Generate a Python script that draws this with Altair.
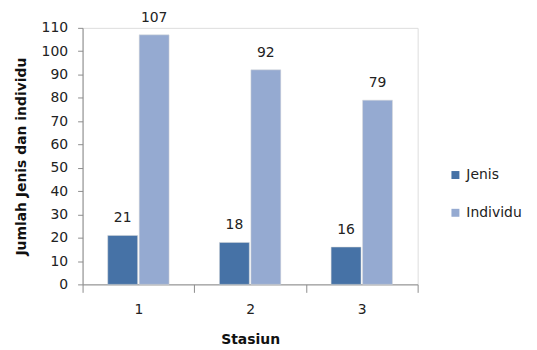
import altair as alt
import pandas as pd

stasiun = ["1", "2", "3"]
jenis = [21, 18, 16]
individu = [107, 92, 79]
series = ["Jenis", "Individu"]
colors = ["#4672A6", "#95AAD1"]

rows = []
for i, s in enumerate(stasiun):
    rows.append({"Stasiun": s, "Seri": "Jenis", "Nilai": jenis[i]})
    rows.append({"Stasiun": s, "Seri": "Individu", "Nilai": individu[i]})
df = pd.DataFrame(rows)

FONT = "DejaVu Sans"

x = alt.X("Stasiun:N", title="Stasiun",
          scale=alt.Scale(paddingInner=0, paddingOuter=0),
          axis=alt.Axis(labelAngle=0, tickBand="extent", tickSize=8,
                        labelPadding=10, titlePadding=16, labelFontSize=14,
                        titleFontSize=14, titleFontWeight="bold",
                        labelFont=FONT, titleFont=FONT,
                        domainColor="#8c8c8c", tickColor="#8c8c8c",
                        labelColor="#222222", titleColor="#111111"))
xo = alt.XOffset("Seri:N", sort=series,
                 scale=alt.Scale(domain=series, paddingInner=0.05, paddingOuter=0.8))
y = alt.Y("Nilai:Q", title="Jumlah Jenis dan individu",
          scale=alt.Scale(domain=[0, 110], nice=False),
          axis=alt.Axis(values=list(range(0, 111, 10)), grid=False, tickSize=5,
                        labelPadding=10, titlePadding=13, labelFontSize=14,
                        titleFontSize=14, titleFontWeight="bold",
                        labelFont=FONT, titleFont=FONT,
                        domainColor="#8c8c8c", tickColor="#8c8c8c",
                        labelColor="#222222", titleColor="#111111"))
color = alt.Color("Seri:N", sort=series,
                  scale=alt.Scale(domain=series, range=colors),
                  legend=alt.Legend(title=None, orient="none", legendX=368, legendY=141,
                                    symbolType="square", symbolSize=64,
                                    labelFontSize=14, labelFont=FONT,
                                    labelColor="#222222", rowPadding=24,
                                    symbolStrokeWidth=0, padding=0))

bars = alt.Chart(df).mark_bar(stroke="#d9d9d9", strokeWidth=0.5).encode(
    x=x, xOffset=xo, y=y, color=color)
labels = alt.Chart(df).mark_text(dy=-13, baseline="alphabetic", fontSize=14,
                                 font=FONT, color="#222222").encode(
    x=x, xOffset=xo, y=y, text="Nilai:Q")

chart = (bars + labels).properties(
    width=337, height=258,
    autosize=alt.AutoSizeParams(type="none"),
    padding={"left": 75, "top": 19, "right": 112, "bottom": 62},
).configure_view(stroke=None).configure(background="white")

chart.save("out.html", embed_options={"renderer": "svg", "actions": False})
